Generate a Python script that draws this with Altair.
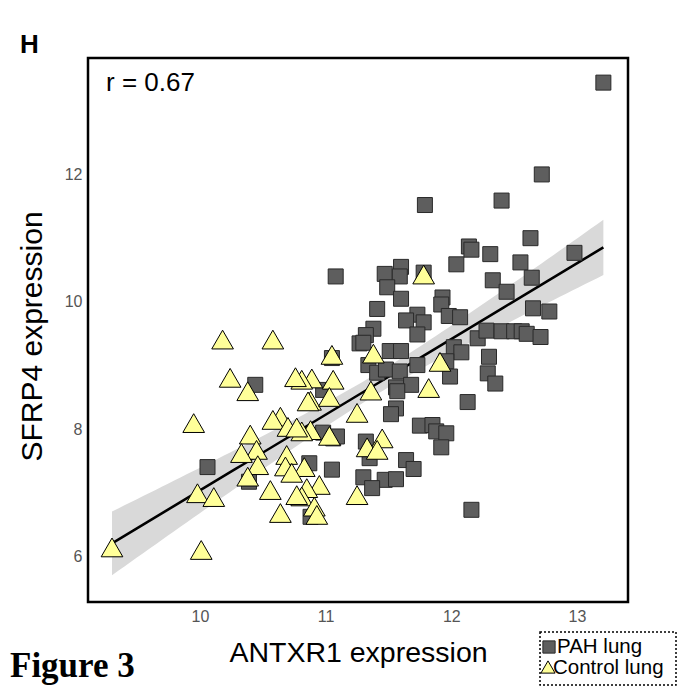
import altair as alt
import numpy as np
import pandas as pd

# ---------------- data ----------------
pah_x = [12.72, 12.40, 11.79, 12.63, 12.98, 12.14, 12.16, 12.31, 12.04, 12.55,
         11.08, 11.47, 11.60, 11.59, 11.78, 11.49, 12.33, 12.64, 12.44, 11.60,
         11.93, 11.92, 11.41, 12.65, 12.78, 11.73, 11.64, 11.78, 11.98, 12.07,
         11.38, 11.32, 11.73, 12.21, 12.28, 12.40, 12.50, 12.56, 12.60, 12.71,
         11.27, 11.30, 11.51, 11.60, 12.02, 12.08, 12.30, 11.34, 11.96, 11.73,
         11.41, 11.48, 11.59, 11.99, 12.29, 12.35, 11.56, 11.68, 11.57, 10.98,
         12.13, 11.56, 11.52, 11.75, 11.85, 11.88, 11.96, 11.92, 11.06, 11.09,
         11.32, 11.35, 11.64, 11.70, 10.87, 11.05, 11.30, 11.47, 11.56, 11.37,
         12.16, 10.88, 10.98, 11.05, 10.44, 10.06, 10.39, 13.21]
pah_y = [12.00, 11.59, 11.52, 11.00, 10.77, 10.87, 10.82, 10.75, 10.59, 10.62,
         10.40, 10.44, 10.55, 10.40, 10.46, 10.23, 10.34, 10.38, 10.16, 10.05,
         10.07, 9.96, 9.89, 9.90, 9.85, 9.80, 9.71, 9.68, 9.78, 9.76,
         9.58, 9.48, 9.49, 9.43, 9.55, 9.54, 9.54, 9.54, 9.50, 9.45,
         9.35, 9.36, 9.23, 9.23, 9.29, 9.21, 9.14, 9.01, 9.07, 9.01,
         8.89, 8.94, 8.91, 8.83, 8.88, 8.72, 8.66, 8.70, 8.60, 8.62,
         8.43, 8.33, 8.24, 8.06, 8.07, 7.97, 7.94, 7.72, 7.86, 7.89,
         7.81, 7.55, 7.52, 7.38, 7.47, 7.37, 7.25, 7.21, 7.22, 7.08,
         6.74, 6.63, 7.95, 9.12, 8.70, 7.41, 7.18, 13.44]

ctrl_x = [11.78, 11.05, 11.38, 11.91, 10.89, 11.06, 10.81, 11.36, 10.88, 11.03,
          11.82, 11.25, 10.88, 11.03, 11.45, 11.33, 11.41, 10.81, 10.83, 10.95,
          10.85, 11.25, 10.81, 10.91, 10.93, 10.18, 10.58, 10.24, 10.38, 10.76,
          10.86, 9.95, 10.64, 10.58, 10.70, 10.77, 10.40, 10.45, 10.33, 10.46,
          10.38, 10.69, 10.68, 10.73, 10.56, 10.77, 10.64, 9.98, 10.11, 9.30, 10.01]
ctrl_y = [10.43, 9.17, 9.19, 9.06, 8.80, 8.78, 8.78, 8.61, 8.45, 8.51,
          8.65, 8.26, 7.99, 7.90, 7.86, 7.72, 7.68, 7.97, 7.41, 7.13,
          7.08, 6.97, 6.95, 6.79, 6.66, 9.41, 9.41, 8.81, 8.60, 8.82,
          8.44, 8.10, 8.20, 8.15, 8.04, 8.03, 7.92, 7.68, 7.63, 7.44,
          7.26, 7.60, 7.42, 7.32, 7.05, 6.97, 6.69, 7.00, 6.94, 6.15, 6.11]

groups = ["PAH lung", "Control lung"]
x_ticks = [10, 11, 12, 13]
y_ticks = [6, 8, 10, 12]
x_title = "ANTXR1 expression"
y_title = "SFRP4 expression"
r_label = "r = 0.67"
panel_label = "H"
figure_label = "Figure 3"

# ---------------- layout / style ----------------
W, H = 540, 544
X_DOMAIN = [9.109, 13.406]
Y_DOMAIN = [5.294, 13.826]
SANS = "Liberation Sans"
SERIF = "Liberation Serif"
SQ_FILL, SQ_STROKE = "#5e5e5e", "#2a2a2a"
TRI_FILL = "#ffff99"

# ---------------- regression fit with 95% CI ----------------
xa = np.array(pah_x + ctrl_x)
ya = np.array(pah_y + ctrl_y)
n = len(xa)
b1, b0 = np.polyfit(xa, ya, 1)
xbar = xa.mean()
sxx = ((xa - xbar) ** 2).sum()
s = np.sqrt(((ya - (b0 + b1 * xa)) ** 2).sum() / (n - 2))
xg = np.linspace(xa.min(), xa.max(), 80)
fitv = b0 + b1 * xg
se = s * np.sqrt(1.0 / n + (xg - xbar) ** 2 / sxx)
tq = 1.977
fit_df = pd.DataFrame({"x": xg, "fit": fitv, "lo": fitv - tq * se, "hi": fitv + tq * se})

pah_df = pd.DataFrame({"x": pah_x, "y": pah_y, "group": groups[0]})
ctrl_df = pd.DataFrame({"x": ctrl_x, "y": ctrl_y, "group": groups[1]})

xs = alt.Scale(domain=X_DOMAIN, nice=False, zero=False)
ys = alt.Scale(domain=Y_DOMAIN, nice=False, zero=False)
X_AX = alt.Axis(values=x_ticks, format="d", title=x_title, grid=False, ticks=False,
                domain=False, labelFontSize=16, labelColor="#555555", labelFont=SANS,
                labelPadding=6, titleFont=SANS, titleFontSize=28.5, titleFontWeight="normal",
                titleColor="black", titleBaseline="middle", titleY=50, titleX=W / 2)
Y_AX = alt.Axis(values=y_ticks, format="d", title=y_title, grid=False, ticks=False,
                domain=False, labelFontSize=16, labelColor="#555555", labelFont=SANS,
                labelPadding=6, titleFont=SANS, titleFontSize=30, titleFontWeight="normal",
                titleColor="black", titleBaseline="middle", titleX=-56, titleY=H / 2 + 6,
                titleAngle=270)

band = alt.Chart(fit_df).mark_area(color="#d9d9d9", opacity=1).encode(
    x=alt.X("x:Q", scale=xs, axis=X_AX),
    y=alt.Y("lo:Q", scale=ys, axis=Y_AX),
    y2="hi:Q",
)
line = alt.Chart(fit_df).mark_line(color="black", strokeWidth=2.5).encode(
    x=alt.X("x:Q", scale=xs, axis=X_AX),
    y=alt.Y("fit:Q", scale=ys, axis=Y_AX),
)
squares = alt.Chart(pah_df).mark_point(shape="square", filled=True, fill=SQ_FILL, stroke=SQ_STROKE,
                                       strokeWidth=1, size=225, opacity=1).encode(
    x=alt.X("x:Q", scale=xs, axis=X_AX),
    y=alt.Y("y:Q", scale=ys, axis=Y_AX),
)
triangles = alt.Chart(ctrl_df).mark_point(shape="triangle-up", filled=True, fill=TRI_FILL, stroke="black",
                                          strokeWidth=1, size=470, opacity=1).encode(
    x=alt.X("x:Q", scale=xs, axis=X_AX),
    y=alt.Y("y:Q", scale=ys, axis=Y_AX),
)

def label(text, x, y, size, font=SANS, weight="normal", align="left"):
    return alt.Chart(pd.DataFrame({"t": [text]})).mark_text(
        align=align, baseline="middle", font=font, fontSize=size, fontWeight=weight, color="black"
    ).encode(x=alt.value(x), y=alt.value(y), text="t:N")

r_text = label(r_label, 18, 25, 26)
h_text = label(panel_label, -68, -13, 26, weight="bold")
fig_text = label(figure_label, -78, 608, 35, font=SERIF, weight="bold")

# legend (manual, dotted frame)
leg_box = alt.Chart(pd.DataFrame({"k": [0]})).mark_rect(
    fill="white", stroke="black", strokeWidth=1.5, strokeDash=[2, 2]
).encode(x=alt.value(452), x2=alt.value(588), y=alt.value(574), y2=alt.value(627))
leg_sq = alt.Chart(pd.DataFrame({"g": [groups[0]]})).mark_point(
    shape="square", filled=True, fill=SQ_FILL, stroke=SQ_STROKE, strokeWidth=1, size=150, opacity=1
).encode(x=alt.value(461), y=alt.value(589))
leg_tri = alt.Chart(pd.DataFrame({"g": [groups[1]]})).mark_point(
    shape="triangle-up", filled=True, fill=TRI_FILL, stroke="black", strokeWidth=1, size=200, opacity=1
).encode(x=alt.value(460), y=alt.value(609))
leg_t1 = label(groups[0], 469, 589, 20.5)
leg_t2 = label(groups[1], 465, 610, 20.5)

chart = alt.layer(
    band, line, squares, triangles, r_text, h_text, fig_text,
    leg_box, leg_sq, leg_tri, leg_t1, leg_t2
).properties(
    width=W, height=H,
    padding={"left": 88, "top": 58, "right": 49, "bottom": 86},
    autosize=alt.AutoSizeParams(type="none"),
    background="white",
).configure_view(stroke="black", strokeWidth=2.5)

chart.save("out.html", embed_options={"renderer": "svg", "actions": False})
